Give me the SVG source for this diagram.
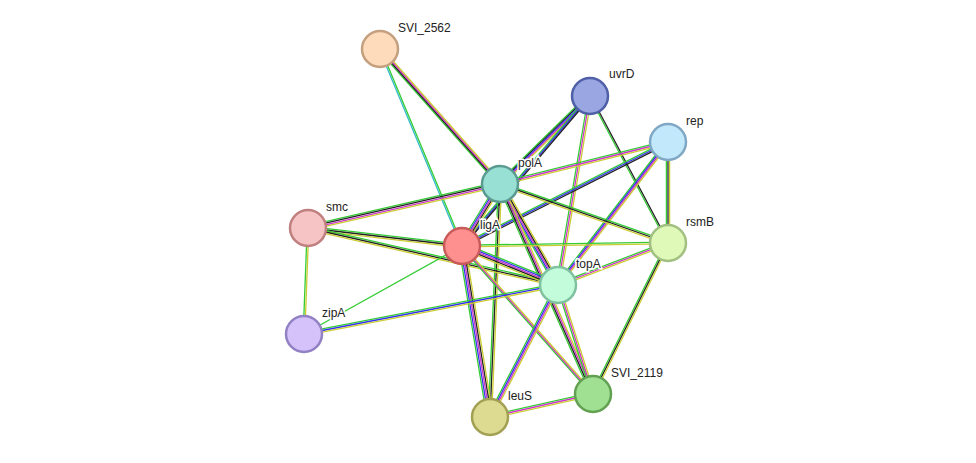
<svg xmlns="http://www.w3.org/2000/svg" xmlns:xlink="http://www.w3.org/1999/xlink" width="976" height="463" viewBox="0 0 976 463">
<style>
#edges use{stroke-width:1.3;fill:none}
.g{stroke:#33cc33}.y{stroke:#cccc33}.m{stroke:#cc33cc}.b{stroke:#3333ee}.k{stroke:#222}.c{stroke:#33bbcc}
.hm4{transform:translate(0,-3.2px)}.hm3{transform:translate(0,-2.4px)}.hm2{transform:translate(0,-1.6px)}.hm1{transform:translate(0,-0.8px)}
.hp1{transform:translate(0,0.8px)}.hp2{transform:translate(0,1.6px)}.hp3{transform:translate(0,2.4px)}.hp4{transform:translate(0,3.2px)}
.vm4{transform:translate(-3.2px,0)}.vm3{transform:translate(-2.4px,0)}.vm2{transform:translate(-1.6px,0)}.vm1{transform:translate(-0.8px,0)}
.vp1{transform:translate(0.8px,0)}.vp2{transform:translate(1.6px,0)}.vp3{transform:translate(2.4px,0)}.vp4{transform:translate(3.2px,0)}
.node circle{stroke-width:2.5}
.node text{font-family:"Liberation Sans",Arial,sans-serif;font-size:12px;fill:#222;stroke:#fff;stroke-width:3px;paint-order:stroke}
</style>
<defs>
<line id="e1" x1="380" y1="49" x2="500" y2="184"/>
<line id="e2" x1="380" y1="49" x2="462" y2="246"/>
<line id="e3" x1="590" y1="96" x2="500" y2="184"/>
<line id="e4" x1="590" y1="96" x2="462" y2="246"/>
<line id="e5" x1="590" y1="96" x2="558" y2="285"/>
<line id="e6" x1="590" y1="96" x2="668" y2="243"/>
<line id="e7" x1="668" y1="142" x2="500" y2="184"/>
<line id="e8" x1="668" y1="142" x2="462" y2="246"/>
<line id="e9" x1="668" y1="142" x2="558" y2="285"/>
<line id="e10" x1="668" y1="142" x2="668" y2="243"/>
<line id="e11" x1="500" y1="184" x2="308" y2="228"/>
<line id="e12" x1="500" y1="184" x2="462" y2="246"/>
<line id="e13" x1="500" y1="184" x2="558" y2="285"/>
<line id="e14" x1="500" y1="184" x2="668" y2="243"/>
<line id="e15" x1="500" y1="184" x2="490" y2="417"/>
<line id="e16" x1="500" y1="184" x2="593" y2="394"/>
<line id="e17" x1="308" y1="228" x2="462" y2="246"/>
<line id="e18" x1="308" y1="228" x2="558" y2="285"/>
<line id="e19" x1="308" y1="228" x2="304" y2="334"/>
<line id="e20" x1="462" y1="246" x2="668" y2="243"/>
<line id="e21" x1="462" y1="246" x2="558" y2="285"/>
<line id="e22" x1="462" y1="246" x2="304" y2="334"/>
<line id="e23" x1="462" y1="246" x2="490" y2="417"/>
<line id="e24" x1="462" y1="246" x2="593" y2="394"/>
<line id="e25" x1="558" y1="285" x2="668" y2="243"/>
<line id="e26" x1="558" y1="285" x2="304" y2="334"/>
<line id="e27" x1="558" y1="285" x2="490" y2="417"/>
<line id="e28" x1="558" y1="285" x2="593" y2="394"/>
<line id="e29" x1="668" y1="243" x2="593" y2="394"/>
<line id="e30" x1="490" y1="417" x2="593" y2="394"/>
</defs>
<g id="edges">
<use href="#e1" class="g vm3"/><use href="#e1" class="k vm1"/><use href="#e1" class="m vp1"/><use href="#e1" class="y vp3"/>
<use href="#e2" class="c vm1"/><use href="#e2" class="g vp1"/>
<use href="#e3" class="g hm4"/><use href="#e3" class="k hm2"/><use href="#e3" class="b h0"/><use href="#e3" class="m hp2"/><use href="#e3" class="y hp4"/>
<use href="#e4" class="g vm2"/><use href="#e4" class="b v0"/><use href="#e4" class="k vp2"/>
<use href="#e5" class="g vm2"/><use href="#e5" class="m v0"/><use href="#e5" class="y vp2"/>
<use href="#e6" class="g vm1"/><use href="#e6" class="k vp1"/>
<use href="#e7" class="g hm2"/><use href="#e7" class="m h0"/><use href="#e7" class="y hp2"/>
<use href="#e8" class="g hm2"/><use href="#e8" class="b h0"/><use href="#e8" class="k hp2"/>
<use href="#e9" class="g vm3"/><use href="#e9" class="b vm1"/><use href="#e9" class="m vp1"/><use href="#e9" class="y vp3"/>
<use href="#e10" class="g vm2"/><use href="#e10" class="k v0"/><use href="#e10" class="y vp2"/>
<use href="#e11" class="g hm3"/><use href="#e11" class="k hm1"/><use href="#e11" class="m hp1"/><use href="#e11" class="y hp3"/>
<use href="#e12" class="g vm4"/><use href="#e12" class="b vm2"/><use href="#e12" class="m v0"/><use href="#e12" class="k vp2"/><use href="#e12" class="y vp4"/>
<use href="#e13" class="g vm4"/><use href="#e13" class="b vm2"/><use href="#e13" class="m v0"/><use href="#e13" class="k vp2"/><use href="#e13" class="y vp4"/>
<use href="#e14" class="g hm2"/><use href="#e14" class="k h0"/><use href="#e14" class="y hp2"/>
<use href="#e15" class="g vm2"/><use href="#e15" class="k v0"/><use href="#e15" class="y vp2"/>
<use href="#e16" class="g vm3"/><use href="#e16" class="k vm1"/><use href="#e16" class="m vp1"/><use href="#e16" class="y vp3"/>
<use href="#e17" class="g hm2"/><use href="#e17" class="k h0"/><use href="#e17" class="y hp2"/>
<use href="#e18" class="g hm2"/><use href="#e18" class="k h0"/><use href="#e18" class="y hp2"/>
<use href="#e19" class="g vm1"/><use href="#e19" class="y vp1"/>
<use href="#e20" class="g hm1"/><use href="#e20" class="y hp1"/>
<use href="#e21" class="g hm4"/><use href="#e21" class="b hm2"/><use href="#e21" class="m h0"/><use href="#e21" class="k hp2"/><use href="#e21" class="y hp4"/>
<use href="#e22" class="g"/>
<use href="#e23" class="g vm4"/><use href="#e23" class="b vm2"/><use href="#e23" class="m v0"/><use href="#e23" class="k vp2"/><use href="#e23" class="y vp4"/>
<use href="#e24" class="g vm2"/><use href="#e24" class="m v0"/><use href="#e24" class="y vp2"/>
<use href="#e25" class="g hm2"/><use href="#e25" class="m h0"/><use href="#e25" class="y hp2"/>
<use href="#e26" class="g hm2"/><use href="#e26" class="b h0"/><use href="#e26" class="y hp2"/>
<use href="#e27" class="g vm3"/><use href="#e27" class="b vm1"/><use href="#e27" class="m vp1"/><use href="#e27" class="y vp3"/>
<use href="#e28" class="g vm2"/><use href="#e28" class="m v0"/><use href="#e28" class="y vp2"/>
<use href="#e29" class="g vm2"/><use href="#e29" class="k v0"/><use href="#e29" class="y vp2"/>
<use href="#e30" class="g hm2"/><use href="#e30" class="m h0"/><use href="#e30" class="y hp2"/>
</g>
<g id="SVI_2562" class="node"><circle cx="380" cy="49" r="18" fill="#fddbbb" stroke="#c4a07e"/><text x="398" y="32">SVI_2562</text></g>
<g id="uvrD" class="node"><circle cx="590" cy="96" r="18" fill="#9aa6e2" stroke="#5060a8"/><text x="609" y="78">uvrD</text></g>
<g id="rep" class="node"><circle cx="668" cy="142" r="18" fill="#c2e8fb" stroke="#80a8c4"/><text x="686" y="125">rep</text></g>
<g id="polA" class="node"><circle cx="500" cy="184" r="18" fill="#99e0d4" stroke="#5a9a90"/><text x="518" y="167">polA</text></g>
<g id="smc" class="node"><circle cx="308" cy="228" r="18" fill="#f6c4c4" stroke="#c08080"/><text x="326" y="211">smc</text></g>
<g id="ligA" class="node"><circle cx="462" cy="246" r="18" fill="#ff9090" stroke="#c85a5a"/><text x="480" y="229">ligA</text></g>
<g id="rsmB" class="node"><circle cx="668" cy="243" r="18" fill="#def9b8" stroke="#a2c082"/><text x="686" y="226">rsmB</text></g>
<g id="topA" class="node"><circle cx="558" cy="285" r="18" fill="#c2fcda" stroke="#80c2a0"/><text x="576" y="268">topA</text></g>
<g id="zipA" class="node"><circle cx="304" cy="334" r="18" fill="#d6c2fb" stroke="#9282c4"/><text x="322" y="317">zipA</text></g>
<g id="SVI_2119" class="node"><circle cx="593" cy="394" r="18" fill="#a0e092" stroke="#62a052"/><text x="611" y="377">SVI_2119</text></g>
<g id="leuS" class="node"><circle cx="490" cy="417" r="18" fill="#ddda92" stroke="#a2a052"/><text x="508" y="400">leuS</text></g>
</svg>
